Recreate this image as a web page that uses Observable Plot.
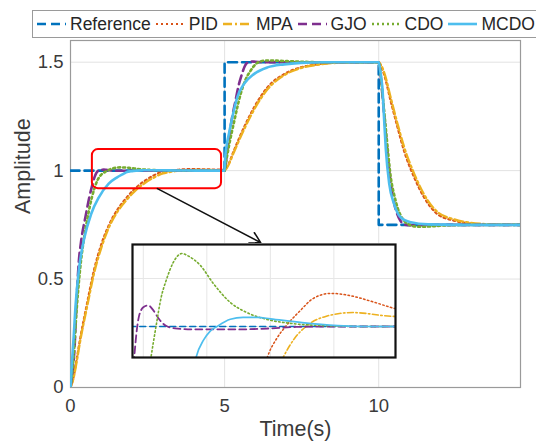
<!DOCTYPE html>
<html><head><meta charset="utf-8">
<script src="https://cdn.jsdelivr.net/npm/d3@7"></script>
<script src="https://cdn.jsdelivr.net/npm/@observablehq/plot@0.6"></script>
<style>
body{margin:0;background:#fff;overflow:hidden;font-family:"Liberation Sans",Arial,sans-serif;}
#wrap{position:relative;width:536px;height:448px;overflow:hidden;background:#fff;}
#main{position:absolute;left:0;top:0;}
#legend{position:absolute;left:32px;top:10px;height:28px;width:560px;border:1px solid #9a9a9a;background:#fff;display:flex;align-items:center;box-sizing:border-box;font-size:17.5px;color:#262626;white-space:nowrap;}
#legend .sw{display:block;margin:0 3px 0 0;}
#legend .lb{margin-right:4px;}
#inset{position:absolute;left:131px;top:243px;}
</style></head><body>
<div id="wrap"><div id="main"></div><div id="legend"></div><div id="inset"></div></div>
<script>
// ---- data (time in s, amplitude) ----
const seriesNames = ["Reference", "PID", "MPA", "GJO", "CDO", "MCDO"];
const xTicks = [0, 5, 10];
const yTicks = [0, 0.5, 1, 1.5];

const Reference = [[0,1],[5,1],[5,1.5],[10,1.5],[10,0.75],[14.6,0.75]];

const PID = [[0,0],[0.1,0.05],[0.2,0.13],[0.32,0.23],[0.54,0.39],[0.76,0.54],[1.0,0.66],[1.25,0.75],[1.52,0.82],[1.8,0.872],[2.06,0.913],[2.4,0.952],[2.7,0.978],[2.95,0.9935],[3.1,0.9975],[3.24,1.0],[3.47,1.0033],[3.67,1.0058],[3.95,1.0069],[4.3,1.0063],[4.6,1.0052],[4.97,1.0037],[5.0,1.0036],
  [5.09,1.02],[5.3,1.092],[5.63,1.2],[5.95,1.29],[6.39,1.384],[6.93,1.445],[7.47,1.476],[8.0,1.49],[8.5,1.497],[9.0,1.4995],[10,1.5],
  [10.08,1.48],[10.17,1.445],[10.39,1.32],[10.61,1.2],[10.82,1.092],[11.15,0.969],[11.47,0.877],[11.9,0.80],[12.45,0.769],[13.0,0.755],[13.5,0.751],[14.0,0.75],[14.6,0.75]];

const MPA = [[0,0],[0.1,0.045],[0.2,0.12],[0.32,0.22],[0.54,0.375],[0.76,0.525],[1.0,0.645],[1.25,0.74],[1.52,0.81],[1.8,0.862],[2.06,0.902],[2.4,0.942],[2.7,0.968],[3.0,0.987],[3.2,0.9935],[3.38,0.9975],[3.56,1.0],[3.87,1.0021],[4.3,1.0029],[4.97,1.0021],[5.0,1.0021],
  [5.09,1.017],[5.3,1.085],[5.63,1.19],[5.95,1.28],[6.39,1.375],[6.93,1.44],[7.47,1.473],[8.0,1.488],[8.5,1.496],[9.0,1.499],[10,1.5],
  [10.08,1.485],[10.17,1.455],[10.39,1.335],[10.61,1.215],[10.82,1.11],[11.15,0.985],[11.47,0.89],[11.9,0.81],[12.45,0.775],[13.0,0.759],[13.5,0.753],[14.0,0.751],[14.6,0.75]];

const GJO = [[0,0],[0.07,0.08],[0.13,0.18],[0.19,0.38],[0.27,0.58],[0.35,0.68],[0.49,0.79],[0.6,0.87],[0.7,0.93],[0.78,0.97],[0.84,0.99],[0.88,0.997],[0.93,1.002],[1.0,1.004],[1.08,1.0044],[1.15,1.0035],[1.25,1.0015],[1.35,1.0002],[1.5,0.9996],[1.8,0.9994],[2.5,0.9994],[3.0,0.9996],[3.4,0.9999],[4.0,1.0],[5.0,1.0],
  [5.08,1.09],[5.16,1.17],[5.25,1.25],[5.35,1.32],[5.45,1.39],[5.55,1.44],[5.65,1.48],[5.74,1.498],[5.85,1.503],[6.0,1.502],[6.3,1.5],[10,1.5],
  [10.05,1.46],[10.1,1.38],[10.2,1.22],[10.3,1.06],[10.4,0.93],[10.5,0.85],[10.6,0.8],[10.7,0.77],[10.82,0.752],[10.95,0.748],[11.1,0.749],[11.4,0.75],[14.6,0.75]];

const CDO = [[0,0],[0.05,0.06],[0.1,0.14],[0.2,0.36],[0.3,0.53],[0.43,0.68],[0.55,0.78],[0.7,0.88],[0.87,0.954],[1.0,0.982],[1.12,0.9935],[1.2,1.0],[1.28,1.006],[1.36,1.0096],[1.47,1.0133],[1.61,1.0152],[1.69,1.0148],[1.9,1.0127],[2.1,1.009],[2.37,1.005],[2.63,1.0029],[2.94,1.0015],[3.35,1.0006],[3.8,1.0002],[4.5,1.0],[5.0,1.0],
  [5.06,1.05],[5.15,1.12],[5.3,1.22],[5.52,1.353],[5.68,1.42],[5.84,1.46],[6.0,1.49],[6.15,1.503],[6.35,1.508],[6.7,1.507],[7.0,1.505],[7.5,1.502],[8.0,1.5],[10,1.5],
  [10.05,1.46],[10.1,1.39],[10.2,1.24],[10.3,1.09],[10.39,0.97],[10.5,0.89],[10.61,0.83],[10.82,0.769],[11.0,0.75],[11.15,0.743],[11.4,0.741],[11.7,0.743],[12.1,0.747],[12.6,0.749],[13.2,0.75],[14.6,0.75]];

const MCDO = [[0,0],[0.05,0.12],[0.11,0.25],[0.16,0.37],[0.27,0.54],[0.45,0.69],[0.67,0.80],[0.92,0.877],[1.24,0.94],[1.5,0.968],[1.73,0.986],[1.83,0.9935],[1.95,0.9972],[2.05,0.999],[2.16,1.0],[2.37,1.0015],[2.57,1.0019],[2.8,1.0019],[3.0,1.0016],[3.5,1.0008],[4.06,1.0002],[4.6,1.0],[5.0,1.0],
  [5.02,1.06],[5.06,1.11],[5.14,1.17],[5.25,1.246],[5.41,1.338],[5.63,1.40],[5.95,1.445],[6.39,1.476],[6.93,1.49],[7.47,1.497],[8.2,1.5],[10,1.5],
  [10.04,1.47],[10.08,1.43],[10.12,1.38],[10.17,1.25],[10.23,1.1],[10.34,0.94],[10.5,0.846],[10.71,0.785],[11.04,0.762],[11.6,0.752],[12.5,0.75],[14.6,0.75]];

// zoomed region (red box) and the inset window, arrow, in data units
const zoomBox = [{x1: 0.71, x2: 4.9, y1: 0.917, y2: 1.097}];
const zoomArrow = [{x1: 2.82, y1: 0.917, x2: 6.17, y2: 0.668}];
const insetTime = [0.83, 4.97];
const insetAmp = [0.99354, 1.01708];
const insetGridX = [1, 2, 3, 4];
const insetGridY = [1.0, 1.01];

// ---- styles ----
const allData = [Reference, PID, MPA, GJO, CDO, MCDO];
const colors = ["#0072BD", "#D95319", "#EDB120", "#7E2F8E", "#77AC30", "#4DBEEE"];
const dashMain = ["9,5", "2,3", "9,3,2,3", "9,5", "2,3", null];
const widthMain = [2.6, 2.2, 2.4, 2.6, 2.6, 2.6];
const dashInset = ["6,4", "1.5,2.5", "6,2.5,1.5,2.5", "7,4", "1.5,2.5", null];
const widthInset = [1.6, 1.5, 1.6, 1.8, 1.6, 1.7];

const font = '"Liberation Sans", Arial, sans-serif';

const lineMarks = (dashes, widths, clip) => allData.map((d, i) => Plot.line(d, {
  x: p => p[0], y: p => p[1],
  stroke: colors[i], strokeWidth: widths[i],
  strokeDasharray: dashes[i] || undefined,
  curve: i === 0 ? "linear" : "monotone-x",
  clip: clip
}));

const mainPlot = Plot.plot({
  width: 536, height: 448,
  marginTop: 40, marginLeft: 70, marginRight: 16, marginBottom: 61,
  x: {domain: [0, 14.6], label: null},
  y: {domain: [0, 1.6], label: null},
  style: {fontFamily: font, color: "#3a3a3a", background: "transparent", overflow: "visible"},
  marks: [
    Plot.gridX(xTicks.slice(1), {stroke: "#e2e2e2", strokeOpacity: 1}),
    Plot.gridY(yTicks.slice(1), {stroke: "#e2e2e2", strokeOpacity: 1}),
    Plot.frame({stroke: "#9a9a9a", strokeWidth: 1.2}),
    Plot.axisX(xTicks, {tickSize: 0, tickPadding: 11, fontSize: 18.5, tickFormat: d => String(d), label: null}),
    Plot.axisY(yTicks, {tickSize: 0, tickPadding: 7, fontSize: 18.5, tickFormat: d => String(d), label: null}),
    Plot.text(["Time(s)"], {frameAnchor: "bottom", dy: 48, fontSize: 21.5, fill: "#3a3a3a"}),
    Plot.text(["Amplitude"], {frameAnchor: "left", dx: -47, rotate: -90, fontSize: 21.5, fill: "#3a3a3a"}),
    ...lineMarks(dashMain, widthMain, true),
    Plot.rect(zoomBox, {x1: "x1", x2: "x2", y1: "y1", y2: "y2", fill: "none", stroke: "#ff0000", strokeWidth: 2, rx: 6}),
    Plot.arrow(zoomArrow, {x1: "x1", y1: "y1", x2: "x2", y2: "y2", stroke: "#111", strokeWidth: 1.6, headLength: 11, bend: 0})
  ]
});
document.getElementById("main").appendChild(mainPlot);

const insetPlot = Plot.plot({
  width: 265, height: 115,
  marginTop: 1, marginLeft: 1, marginRight: 1, marginBottom: 1,
  x: {domain: insetTime, axis: null},
  y: {domain: insetAmp, axis: null},
  style: {background: "#fff", overflow: "visible"},
  marks: [
    Plot.gridX(insetGridX, {stroke: "#e6e6e6", strokeOpacity: 1}),
    Plot.gridY(insetGridY, {stroke: "#e6e6e6", strokeOpacity: 1}),
    ...lineMarks(dashInset, widthInset, true),
    Plot.frame({stroke: "#111", strokeWidth: 2.2})
  ]
});
document.getElementById("inset").appendChild(insetPlot);

// legend
const legend = document.getElementById("legend");
seriesNames.forEach((name, i) => {
  const sw = document.createElementNS("http://www.w3.org/2000/svg", "svg");
  sw.setAttribute("width", 31); sw.setAttribute("height", 10); sw.setAttribute("class", "sw");
  if (i === 0) sw.style.marginLeft = "3px";
  const ln = document.createElementNS("http://www.w3.org/2000/svg", "line");
  ln.setAttribute("x1", 1); ln.setAttribute("x2", 30); ln.setAttribute("y1", 5); ln.setAttribute("y2", 5);
  ln.setAttribute("stroke", colors[i]); ln.setAttribute("stroke-width", widthMain[i]);
  if (dashMain[i]) ln.setAttribute("stroke-dasharray", dashMain[i]);
  sw.appendChild(ln);
  legend.appendChild(sw);
  const lb = document.createElement("span");
  lb.className = "lb"; lb.textContent = name;
  legend.appendChild(lb);
});
</script>
</body></html>
